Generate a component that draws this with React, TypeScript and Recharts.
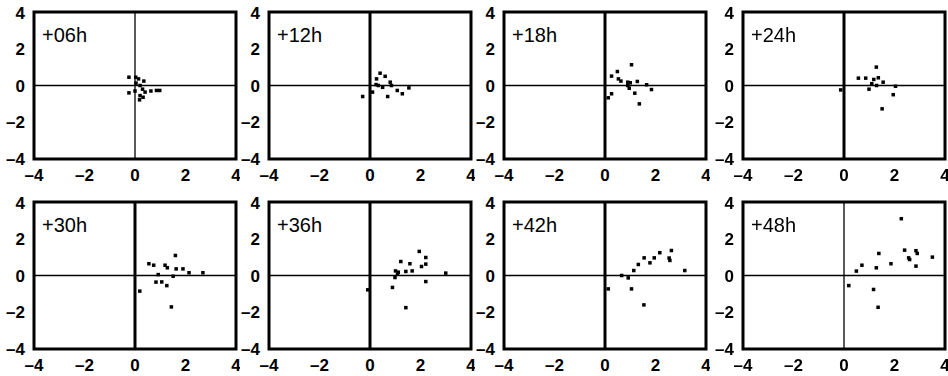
import React from 'react';
import { ScatterChart, Scatter, XAxis, YAxis, ReferenceLine, ReferenceArea } from 'recharts';

type Pt = { x: number; y: number };

const axisTicks = [-4, -2, 0, 2, 4];
const axisTickLabels = ['–4', '–2', '0', '2', '4'];
const panelLabels = ['+06h', '+12h', '+18h', '+24h', '+30h', '+36h', '+42h', '+48h'];

const h06: Pt[] = [
  { x: -0.24, y: 0.45 }, { x: 0.03, y: 0.45 }, { x: 0.14, y: 0.36 }, { x: 0.35, y: 0.24 },
  { x: 0.04, y: 0.13 }, { x: 0.2, y: 0.0 }, { x: -0.24, y: -0.4 }, { x: 0.0, y: -0.3 },
  { x: 0.2, y: -0.55 }, { x: 0.32, y: -0.64 }, { x: 0.18, y: -0.78 }, { x: 0.4, y: -0.36 },
  { x: 0.63, y: -0.3 }, { x: 0.85, y: -0.27 }, { x: 0.98, y: -0.27 }, { x: 0.3, y: -0.2 },
];
const h12: Pt[] = [
  { x: -0.29, y: -0.6 }, { x: 0.1, y: -0.36 }, { x: 0.26, y: 0.36 }, { x: 0.4, y: 0.67 },
  { x: 0.6, y: 0.5 }, { x: 0.24, y: 0.05 }, { x: 0.5, y: -0.1 }, { x: 0.8, y: 0.18 },
  { x: 0.85, y: 0.0 }, { x: 0.7, y: -0.6 }, { x: 1.08, y: -0.27 }, { x: 1.28, y: -0.45 },
  { x: 1.54, y: -0.13 }, { x: 0.33, y: 0.0 },
];
const h18: Pt[] = [
  { x: 1.05, y: 1.13 }, { x: 0.49, y: 0.76 }, { x: 0.26, y: 0.51 }, { x: 0.53, y: 0.36 },
  { x: 0.63, y: 0.24 }, { x: 0.9, y: 0.18 }, { x: 1.0, y: 0.15 }, { x: 1.28, y: 0.22 },
  { x: 1.65, y: 0.04 }, { x: 1.84, y: -0.22 }, { x: 0.96, y: -0.15 }, { x: 1.18, y: -0.42 },
  { x: 1.36, y: -1.0 }, { x: 0.26, y: -0.45 }, { x: 0.13, y: -0.67 }, { x: 0.9, y: 0.0 },
];
const h24: Pt[] = [
  { x: 1.28, y: 1.0 }, { x: 0.57, y: 0.4 }, { x: 0.86, y: 0.4 }, { x: 1.18, y: 0.33 },
  { x: 1.36, y: 0.42 }, { x: 1.55, y: 0.18 }, { x: 0.99, y: -0.2 }, { x: 1.29, y: 0.0 },
  { x: 2.04, y: -0.04 }, { x: 1.95, y: -0.5 }, { x: 1.51, y: -1.27 }, { x: -0.13, y: -0.24 },
  { x: 1.1, y: 0.1 },
];
const h30: Pt[] = [
  { x: 1.6, y: 1.09 }, { x: 0.55, y: 0.64 }, { x: 0.74, y: 0.56 }, { x: 1.19, y: 0.56 },
  { x: 1.28, y: 0.42 }, { x: 1.63, y: 0.36 }, { x: 1.9, y: 0.36 }, { x: 2.14, y: 0.15 },
  { x: 2.69, y: 0.15 }, { x: 0.92, y: 0.05 }, { x: 1.51, y: -0.04 }, { x: 0.83, y: -0.36 },
  { x: 1.06, y: -0.35 }, { x: 1.26, y: -0.55 }, { x: 0.19, y: -0.85 }, { x: 1.44, y: -1.71 },
];
const h36: Pt[] = [
  { x: 1.95, y: 1.31 }, { x: 2.21, y: 0.98 }, { x: 1.22, y: 0.76 }, { x: 1.58, y: 0.64 },
  { x: 2.21, y: 0.62 }, { x: 2.04, y: 0.49 }, { x: 1.01, y: 0.25 }, { x: 1.12, y: 0.18 },
  { x: 1.42, y: 0.22 }, { x: 1.67, y: 0.25 }, { x: 3.0, y: 0.13 }, { x: 0.99, y: -0.11 },
  { x: 0.89, y: -0.65 }, { x: 2.21, y: -0.33 }, { x: -0.09, y: -0.78 }, { x: 1.42, y: -1.75 },
  { x: 1.09, y: 0.07 },
];
const h42: Pt[] = [
  { x: 2.63, y: 1.36 }, { x: 2.17, y: 1.24 }, { x: 1.55, y: 0.96 }, { x: 1.95, y: 0.96 },
  { x: 2.54, y: 0.95 }, { x: 1.78, y: 0.69 }, { x: 1.32, y: 0.6 }, { x: 1.14, y: 0.27 },
  { x: 2.57, y: 0.82 }, { x: 3.16, y: 0.27 }, { x: 0.66, y: 0.0 }, { x: 0.92, y: -0.13 },
  { x: 0.13, y: -0.73 }, { x: 1.05, y: -0.73 }, { x: 1.54, y: -1.6 },
];
const h48: Pt[] = [
  { x: 2.27, y: 3.09 }, { x: 1.38, y: 1.2 }, { x: 2.4, y: 1.38 }, { x: 2.85, y: 1.35 },
  { x: 2.56, y: 0.96 }, { x: 2.6, y: 0.87 }, { x: 3.5, y: 1.0 }, { x: 1.86, y: 0.64 },
  { x: 0.71, y: 0.56 }, { x: 1.28, y: 0.42 }, { x: 0.49, y: 0.24 }, { x: 2.85, y: 0.51 },
  { x: 0.19, y: -0.55 }, { x: 1.17, y: -0.76 }, { x: 1.35, y: -1.73 }, { x: 2.9, y: 1.2 },
];
const panelData = [h06, h12, h18, h24, h30, h36, h42, h48];

// layout of the plot boxes (px on the page)
const colLeft = [34, 269, 504, 743];
const rowTop = [12, 202];
const plotW = 202;
const plotH = 147;
const yAxisW = 30;
const xAxisH = 30;
const marginTop = 8;
const thinZeroLine = [true, false, false, false, false, false, false, true];

const font = '"Liberation Sans", Arial, Helvetica, sans-serif';

const fmt = (v: number) => {
  const i = axisTicks.indexOf(v);
  return i >= 0 ? axisTickLabels[i] : String(v);
};

const SquareDot = (props: any) => {
  const { cx, cy } = props;
  if (cx == null || cy == null) return null;
  return <rect x={cx - 1.75} y={cy - 1.75} width={3.5} height={3.5} fill="#000" />;
};

const XTick = (props: any) => {
  const { x, y, payload } = props;
  return (
    <text x={x} y={y + 14} textAnchor="middle" fontFamily={font} fontSize={17} fontWeight="bold" fill="#000">
      {fmt(payload.value)}
    </text>
  );
};

const YTick = (props: any) => {
  const { x, y, payload } = props;
  return (
    <text x={x - 1} y={y + 6} textAnchor="end" fontFamily={font} fontSize={17} fontWeight="bold" fill="#000">
      {fmt(payload.value)}
    </text>
  );
};

function Panel({ index }: { index: number }) {
  const left = colLeft[index % 4];
  const top = rowTop[Math.floor(index / 4)];
  return (
    <div style={{ position: 'absolute', left: left - yAxisW, top: top - marginTop }}>
      <ScatterChart
        width={yAxisW + plotW + 4}
        height={marginTop + plotH + xAxisH}
        margin={{ top: marginTop, right: 4, bottom: 0, left: 0 }}
      >
        <XAxis
          type="number"
          dataKey="x"
          domain={[-4, 4]}
          ticks={axisTicks}
          allowDataOverflow
          axisLine={false}
          tickLine={false}
          tick={<XTick />}
          height={xAxisH}
        />
        <YAxis
          type="number"
          dataKey="y"
          domain={[-4, 4]}
          ticks={axisTicks}
          allowDataOverflow
          axisLine={false}
          tickLine={false}
          tick={<YTick />}
          width={yAxisW}
        />
        <ReferenceArea x1={-4} x2={4} y1={-4} y2={4} fill="none" stroke="#000" strokeWidth={3} />
        <ReferenceLine x={0} stroke="#000" strokeWidth={thinZeroLine[index] ? 1.3 : 3} />
        <ReferenceLine y={0} stroke="#000" strokeWidth={1.3} />
        <Scatter data={panelData[index]} shape={SquareDot} isAnimationActive={false} />
      </ScatterChart>
      <div
        style={{
          position: 'absolute',
          left: yAxisW + 8,
          top: marginTop + 13,
          fontFamily: font,
          fontSize: 20,
          lineHeight: '20px',
          color: '#000',
        }}
      >
        {panelLabels[index]}
      </div>
    </div>
  );
}

export default function App() {
  return (
    <div style={{ position: 'fixed', left: 0, top: 0, width: 948, height: 376, background: '#fff' }}>
      {panelLabels.map((l, i) => (
        <Panel key={l} index={i} />
      ))}
    </div>
  );
}
